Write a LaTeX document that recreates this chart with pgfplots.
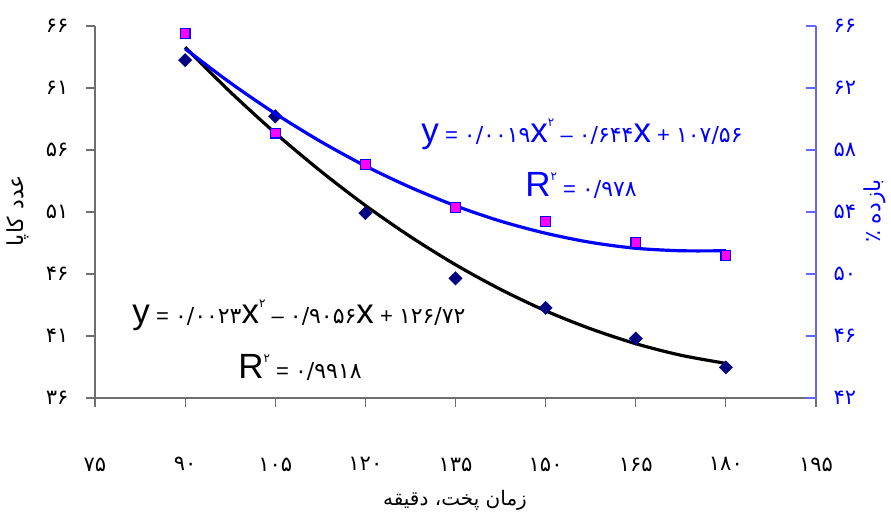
\documentclass[border=0pt]{standalone}
\usepackage{fontspec}
\setmainfont{Liberation Sans}
\newfontfamily\fa[Script=Arabic]{DejaVu Sans}
\TeXXeTstate=1
\usepackage{pgfplots}
\pgfplotsset{compat=1.18}
\definecolor{navyd}{RGB}{0,0,128}
\definecolor{mag}{RGB}{255,0,255}
\definecolor{blu}{RGB}{0,0,255}
\definecolor{axblu}{RGB}{100,100,255}
\definecolor{axgray}{RGB}{110,110,110}

\newcommand\Lt[1]{{\fontsize{35}{35}\selectfont #1}}
\newcommand\Dg[1]{{\fa\fontsize{22}{24}\selectfont #1}}
\newcommand\Op[1]{{\fontsize{22}{24}\selectfont #1}}
\newcommand\Sq{\raisebox{16pt}{\fa\fontsize{12}{12}\selectfont ۲}}

\begin{document}
\begin{tikzpicture}
\path[use as bounding box] (-95pt,-118pt) rectangle (796pt,398pt);
\pgfplotsset{
  base/.style={width=721pt, height=372pt, scale only axis,
    xmin=75, xmax=195,
    ticklabel style={font=\fa\fontsize{21}{24}\selectfont}},
}
% kappa number, left axis
\begin{axis}[base,
  axis x line*=bottom, axis y line*=left,
  ymin=36, ymax=66,
  ytick={36,41,46,51,56,61,66},
  yticklabels={۳۶,۴۱,۴۶,۵۱,۵۶,۶۱,۶۶},
  xtick={75,90,105,120,135,150,165,180,195},
  xticklabels={۷۵,۹۰,۱۰۵,۱۲۰,۱۳۵,۱۵۰,۱۶۵,۱۸۰,۱۹۵},
  tick align=outside, major tick length=9pt,
  axis line style={axgray, line width=1.2pt, -},
  tick style={axgray, line width=1.2pt},
  xticklabel style={yshift=-47pt},
  yticklabel style={xshift=-14pt},
]
\addplot[only marks, mark=square*, mark size=4.7pt,
  mark options={rotate=45, fill=navyd, draw=navyd}] coordinates {
  (90,63.25)(105,58.71)(120,50.91)(135,45.65)(150,43.27)(165,40.79)(180,38.47)};
\addplot[black, line width=3.2pt, smooth, line join=round] coordinates {
  (90,64.28)(97.5,60.69)(105,57.37)(112.5,54.32)(120,51.53)(127.5,49.01)
  (135,46.75)(142.5,44.76)(150,43.03)(157.5,41.58)(165,40.38)(172.5,39.45)(180,38.79)};
\end{axis}
% yield, right axis
\begin{axis}[base,
  axis x line=none, axis y line*=right,
  ymin=42, ymax=66,
  ytick={42,46,50,54,58,62,66},
  yticklabels={۴۲,۴۶,۵۰,۵۴,۵۸,۶۲,۶۶},
  tick align=inside, major tick length=10pt,
  axis line style={axblu, line width=1.2pt, -},
  tick style={axblu, line width=1.2pt},
  yticklabel style={blu, xshift=14pt},
]
\addplot[only marks, mark=square*, mark size=4.9pt,
  mark options={fill=mag, draw=blu, line width=1.3pt}] coordinates {
  (90,65.53)(105,59.09)(120,57.05)(135,54.30)(150,53.40)(165,52.04)(180,51.18)};
\addplot[blu, line width=3.2pt, smooth, line join=round] coordinates {
  (90,64.53)(97.5,62.34)(105,60.35)(112.5,58.56)(120,56.97)(127.5,55.59)
  (135,54.40)(142.5,53.41)(150,52.63)(157.5,52.04)(165,51.66)(172.5,51.50)(180,51.50)};
\end{axis}
% axis titles
\node[rotate=90, font=\fa\fontsize{22}{26}\selectfont] at (-77pt,187pt)
  {\beginR عدد کاپا\endR};
\node[rotate=90, blu, font=\fa\fontsize{22}{26}\selectfont] at (780pt,187pt)
  {\beginR بازده ٪\endR};
\node[font=\fa\fontsize{20}{24}\selectfont] at (360pt,-102pt)
  {\beginR زمان پخت، دقیقه\endR};
% trendline equations
\node[anchor=base] at (204pt,74pt)
  {\Lt{y}\Op{ = }\Dg{۰/۰۰۲۳}\Lt{x}\Sq\Op{ – }\Dg{۰/۹۰۵۶}\Lt{x}\Op{ + }\Dg{۱۲۶/۷۲}};
\node[anchor=base] at (205pt,19pt) {\Lt{R}\Sq\Op{ = }\Dg{۰/۹۹۱۸}};
\node[anchor=base, blu] at (487pt,255pt)
  {\Lt{y}\Op{ = }\Dg{۰/۰۰۱۹}\Lt{x}\Sq\Op{ – }\Dg{۰/۶۴۴}\Lt{x}\Op{ + }\Dg{۱۰۷/۵۶}};
\node[anchor=base, blu] at (486pt,201pt) {\Lt{R}\Sq\Op{ = }\Dg{۰/۹۷۸}};
\end{tikzpicture}
\end{document}
